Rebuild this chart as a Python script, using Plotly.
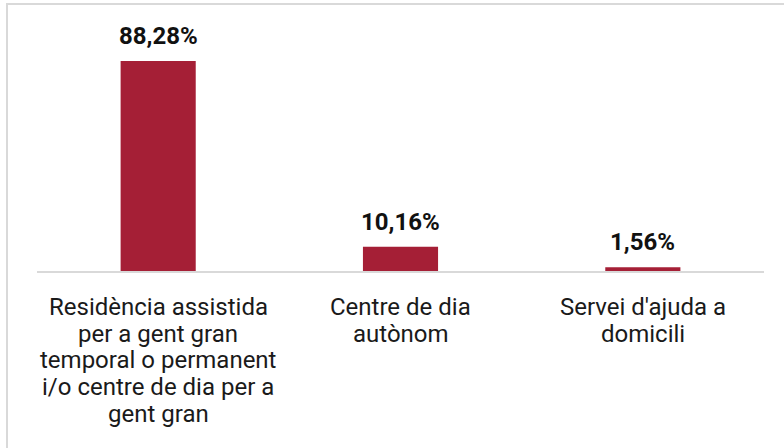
import plotly.graph_objects as go

categories = ["Residència assistida", "Centre de dia", "Servei d'ajuda a"]
category_lines = [
    ["Residència assistida", "per a gent gran", "temporal o permanent",
     "i/o centre de dia per a", "gent gran"],
    ["Centre de dia", "autònom"],
    ["Servei d'ajuda a", "domicili"],
]
values = [88.28, 10.16, 1.56]
value_labels = ["88,28%", "10,16%", "1,56%"]

W, H = 784, 448
L, R, T, B = 37, 20, 33, 177
pw, ph = W - L - R, H - T - B
base_y = T + ph  # pixel row of the baseline


def px_to_paper_x(px):
    return (px - L) / pw


def px_to_paper_y(py):
    return (base_y - py) / ph


fig = go.Figure(go.Bar(
    x=categories, y=values,
    marker=dict(color="#A51F36", line=dict(width=0)),
    width=0.31, cliponaxis=False, hoverinfo="skip",
))

annotations = []
for cat, val, lab in zip(categories, values, value_labels):
    annotations.append(dict(
        x=cat, y=val, xref="x", yref="y", text=lab, showarrow=False,
        yanchor="bottom", yshift=9,
        font=dict(family="Roboto", size=24, color="#111111", weight="bold"),
    ))
for cat, lines in zip(categories, category_lines):
    for i, line in enumerate(lines):
        annotations.append(dict(
            x=cat, y=0, xref="x", yref="y", text=line, showarrow=False,
            yanchor="top", yshift=-20 - i * 26.7,
            font=dict(family="Roboto", size=24, color="#1a1a1a"),
        ))

fig.update_layout(
    width=W, height=H,
    margin=dict(l=L, r=R, t=T, b=B, autoexpand=False),
    paper_bgcolor="white", plot_bgcolor="white",
    showlegend=False,
    font=dict(family="Roboto", size=20, color="#1a1a1a"),
    xaxis=dict(showgrid=False, showline=True, linecolor="#d9d9d9", linewidth=2,
               ticks="", showticklabels=False, automargin=False),
    yaxis=dict(range=[0, 100], visible=False, automargin=False),
    annotations=annotations,
    shapes=[dict(type="rect", xref="paper", yref="paper",
                 x0=px_to_paper_x(7), x1=px_to_paper_x(W + 20),
                 y0=px_to_paper_y(H + 20), y1=px_to_paper_y(4),
                 line=dict(color="#d9d9d9", width=2), fillcolor="rgba(0,0,0,0)",
                 layer="below")],
)

fig.write_html("out.html", config={"displayModeBar": False},
               post_script="document.body.style.margin='0';document.body.style.overflow='hidden';")
